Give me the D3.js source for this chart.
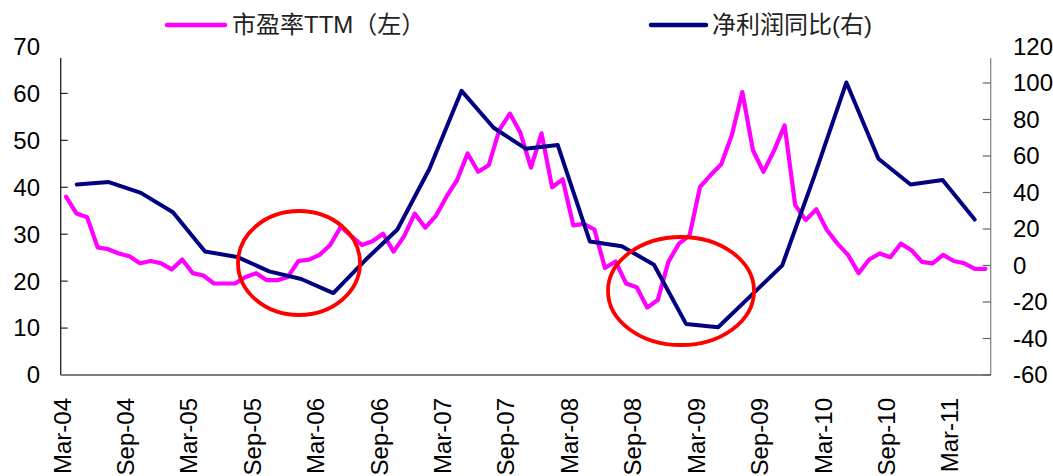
<!DOCTYPE html>
<html>
<head>
<meta charset="utf-8">
<script src="https://cdn.jsdelivr.net/npm/d3@7"></script>
<style>
  body { margin: 0; background: #fff; }
  text { font-family: "Liberation Sans", Arial, sans-serif; }
</style>
</head>
<body>
<div id="chart"></div>
<script>
// monthly categories Mar-04 .. Jun-11 (left axis series)
const months = d3.timeMonth.range(new Date(2004, 2, 1), new Date(2011, 6, 1));
// P/E TTM, left axis
const peValues = [
  38.0, 34.4, 33.6, 27.2, 26.8, 25.9, 25.3, 23.8, 24.3, 23.8, 22.5, 24.6,
  21.7, 21.2, 19.5, 19.5, 19.5, 20.9, 21.7, 20.2, 20.2, 20.9, 24.3, 24.6,
  25.6, 27.7, 31.6, 29.6, 27.7, 28.5, 30.1, 26.3, 29.6, 34.4, 31.4, 33.9,
  38.0, 41.5, 47.2, 43.3, 44.7, 52.2, 55.7, 51.6, 44.2, 51.5, 40.0, 41.7,
  31.9, 32.2, 31.0, 22.8, 24.2, 19.5, 18.7, 14.4, 16.0, 24.1, 28.0, 29.7,
  40.1, 42.6, 44.9, 51.1, 60.3, 47.9, 43.3, 47.8, 53.2, 36.2, 33.0, 35.3,
  30.9, 28.0, 25.6, 21.7, 24.6, 25.9, 25.1, 28.0, 26.6, 24.1, 23.8, 25.6,
  24.3, 23.8, 22.6, 22.6
];
// quarterly categories 2004Q1 .. 2011Q1 (right axis series)
const quarters = d3.range(2004, 2012).flatMap(y => [1, 2, 3, 4].map(q => y + "Q" + q)).slice(0, 29);
// net profit YoY %, right axis
const profitYoY = [
  44.4, 45.7, 39.8, 29.2, 7.7, 4.7, -3.2, -7.4, -15.1, 3.0, 19.7, 53.0,
  95.7, 75.5, 64.0, 66.0, 13.2, 10.5, 0.4, -32.0, -33.8, -16.9, 0.1, 49.0,
  100.3, 58.5, 44.4, 46.8, 25.2
];
const xTickLabels = ["Mar-04","Sep-04","Mar-05","Sep-05","Mar-06","Sep-06","Mar-07","Sep-07",
  "Mar-08","Sep-08","Mar-09","Sep-09","Mar-10","Sep-10","Mar-11"];
const leftTicks = [0, 10, 20, 30, 40, 50, 60, 70];
const rightTicks = [-60, -40, -20, 0, 20, 40, 60, 80, 100, 120];
const seriesNames = ["市盈率TTM（左）", "净利润同比(右)"];
// highlighted regions [centerX, centerY, rx, ry] in pixels
const highlights = [[299, 263, 61, 52], [681, 291, 73, 54]];

const W = 1053, H = 476;
const plotLeft = 60.7, plotRight = 990.7, plotTop = 46.5, plotBottom = 375, axisTop = 58;

const svg = d3.select("#chart").append("svg")
  .attr("width", W).attr("height", H);

const fmt = d3.timeFormat("%b-%y");
const xm = d3.scaleBand().domain(months.map(fmt)).range([plotLeft, plotRight]);
const xq = d3.scaleBand().domain(quarters).range([plotLeft, plotRight]);
const yL = d3.scaleLinear().domain([0, 70]).range([plotBottom, plotTop]);
const yR = d3.scaleLinear().domain([-60, 120]).range([plotBottom, plotTop]);

// axes lines
svg.append("line").attr("x1", plotLeft).attr("x2", plotLeft).attr("y1", axisTop).attr("y2", plotBottom)
  .attr("stroke", "#222").attr("stroke-width", 1.3);
svg.append("line").attr("x1", plotRight).attr("x2", plotRight).attr("y1", axisTop).attr("y2", plotBottom)
  .attr("stroke", "#888").attr("stroke-width", 1.3);
svg.append("line").attr("x1", plotLeft).attr("x2", plotRight).attr("y1", plotBottom).attr("y2", plotBottom)
  .attr("stroke", "#555").attr("stroke-width", 1.3);

// left ticks + labels
svg.append("g").selectAll("line")
  .data(leftTicks.filter(d => yL(d) > axisTop && d > 0))
  .join("line")
  .attr("x1", plotLeft).attr("x2", plotLeft + 7)
  .attr("y1", d => yL(d)).attr("y2", d => yL(d))
  .attr("stroke", "#222").attr("stroke-width", 1.2);
svg.append("g").selectAll("text")
  .data(leftTicks).join("text")
  .attr("x", 40).attr("y", d => yL(d)).attr("dy", "0.35em")
  .attr("text-anchor", "end").attr("font-size", 24).attr("fill", "#000")
  .text(d => d);

// right ticks + labels
svg.append("g").selectAll("line")
  .data(rightTicks.filter(d => yR(d) > axisTop))
  .join("line")
  .attr("x1", plotRight - 8).attr("x2", plotRight)
  .attr("y1", d => yR(d)).attr("y2", d => yR(d))
  .attr("stroke", "#666").attr("stroke-width", 1.2);
svg.append("g").selectAll("text")
  .data(rightTicks).join("text")
  .attr("x", 1013).attr("y", d => yR(d)).attr("dy", "0.35em")
  .attr("text-anchor", "start").attr("font-size", 24).attr("fill", "#000")
  .text(d => d);

// x labels
svg.append("g").selectAll("text")
  .data(xTickLabels).join("text")
  .attr("transform", d => `translate(${xm(d) + 1.5},398) rotate(-90)`)
  .attr("dy", "0.35em")
  .attr("text-anchor", "end").attr("font-size", 24).attr("fill", "#000")
  .text(d => d);

// series
const pe = months.map((m, i) => ({ k: fmt(m), v: peValues[i] }));
svg.append("path")
  .datum(pe)
  .attr("fill", "none").attr("stroke", "#FF00FF").attr("stroke-width", 4.2)
  .attr("stroke-linejoin", "round").attr("stroke-linecap", "round")
  .attr("d", d3.line().x(d => xm(d.k) + xm.bandwidth() / 2).y(d => yL(d.v)));

const np = quarters.map((q, i) => ({ k: q, v: profitYoY[i] }));
svg.append("path")
  .datum(np)
  .attr("fill", "none").attr("stroke", "#000080").attr("stroke-width", 4)
  .attr("stroke-linejoin", "round").attr("stroke-linecap", "round")
  .attr("d", d3.line().x(d => xq(d.k) + xq.bandwidth() / 2).y(d => yR(d.v)));

// red ellipses
svg.append("g").selectAll("ellipse")
  .data(highlights).join("ellipse")
  .attr("cx", d => d[0]).attr("cy", d => d[1]).attr("rx", d => d[2]).attr("ry", d => d[3])
  .attr("fill", "none").attr("stroke", "#FF0000").attr("stroke-width", 3.8);

// legend
const legend = [
  { name: seriesNames[0], color: "#FF00FF", x1: 167, x2: 225, tx: 232 },
  { name: seriesNames[1], color: "#000080", x1: 651, x2: 706, tx: 712 }
];
const lg = svg.append("g").selectAll("g").data(legend).join("g");
lg.append("line")
  .attr("x1", d => d.x1).attr("x2", d => d.x2).attr("y1", 25).attr("y2", 25)
  .attr("stroke", d => d.color).attr("stroke-width", 4.5).attr("stroke-linecap", "round");
lg.append("text")
  .attr("x", d => d.tx).attr("y", 25).attr("dy", "0.35em")
  .attr("font-size", 24).attr("fill", "#222")
  .style("font-family", "'Liberation Sans', 'Noto Sans CJK SC', sans-serif")
  .text(d => d.name);
</script>
</body>
</html>
